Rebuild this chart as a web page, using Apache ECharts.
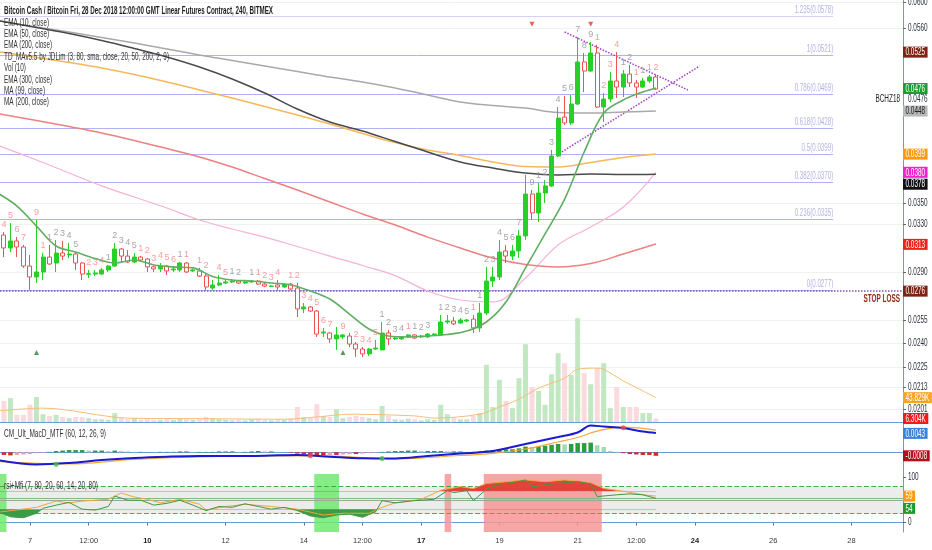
<!DOCTYPE html>
<html>
<head>
<meta charset="utf-8">
<title>BCH/BTC 240</title>
<script src="https://cdn.jsdelivr.net/npm/echarts@6/dist/echarts.min.js"></script>
<style>
html,body{margin:0;padding:0;background:#ffffff;}
#chart{width:932px;height:550px;}
</style>
</head>
<body>
<div id="chart"></div>
<script>
// ================= DATA =================
const firstBarTime = Date.UTC(2018, 11, 6, 8, 0);   // 6 Dec 2018 08:00 UTC
const barHours = 4;
const viewStartTime = Date.UTC(2018, 11, 6, 5, 36);
const viewEndTime = Date.UTC(2018, 11, 29, 7, 36);

const opens = [0.03210,0.03100,0.03159,0.03108,0.02953,0.02867,0.02906,0.03025,0.02977,0.03058,
0.03042,0.03050,0.02977,0.02888,0.02890,0.02890,0.02922,0.02953,0.03091,0.03033,
0.02985,0.03025,0.03009,0.02946,0.02930,0.02953,0.02922,0.02922,0.02977,0.02914,
0.02914,0.02874,0.02783,0.02806,0.02821,0.02829,0.02836,0.02821,0.02829,0.02836,
0.02813,0.02795,0.02806,0.02791,0.02813,0.02783,0.02631,0.02645,0.02616,0.02466,
0.02466,0.02427,0.02440,0.02446,0.02394,0.02362,0.02331,0.02362,0.02356,0.02466,
0.02427,0.02427,0.02440,0.02453,0.02440,0.02440,0.02453,0.02453,0.02540,0.02547,
0.02533,0.02547,0.02560,0.02500,0.02602,0.02836,0.02867,0.03075,0.03033,0.03075,
0.03202,0.03584,0.03406,0.03594,0.03663,0.03970,0.04408,0.04339,0.04566,0.05113,
0.04990,0.05238,0.04529,0.04628,0.04858,0.04779,0.04950,0.04832,0.04779,0.04858,
0.04910];
const closes = [0.03100,0.03159,0.03108,0.02953,0.02867,0.02906,0.03025,0.02969,0.03058,0.03033,
0.03050,0.02977,0.02890,0.02893,0.02898,0.02922,0.02953,0.03091,0.03033,0.02985,
0.03025,0.03001,0.02946,0.02930,0.02953,0.02914,0.02930,0.02977,0.02906,0.02922,
0.02874,0.02791,0.02806,0.02821,0.02829,0.02836,0.02821,0.02829,0.02836,0.02813,
0.02798,0.02798,0.02791,0.02813,0.02776,0.02631,0.02645,0.02616,0.02459,0.02473,
0.02427,0.02453,0.02453,0.02394,0.02362,0.02331,0.02362,0.02368,0.02466,0.02427,
0.02433,0.02440,0.02453,0.02433,0.02446,0.02459,0.02459,0.02540,0.02547,0.02527,
0.02554,0.02554,0.02500,0.02602,0.02836,0.02867,0.03066,0.03033,0.03075,0.03202,
0.03584,0.03406,0.03594,0.03663,0.03970,0.04396,0.04339,0.04566,0.05113,0.04990,
0.05238,0.04529,0.04628,0.04858,0.04779,0.04950,0.04832,0.04779,0.04858,0.04910,
0.04754];
const lows = [0.03025,0.03066,0.03025,0.02938,0.02769,0.02821,0.02844,0.02961,0.02906,0.03001,
0.03017,0.02922,0.02844,0.02859,0.02874,0.02882,0.02906,0.02946,0.02985,0.02977,
0.02977,0.02985,0.02906,0.02906,0.02906,0.02882,0.02906,0.02906,0.02898,0.02906,
0.02867,0.02769,0.02769,0.02798,0.02813,0.02821,0.02813,0.02813,0.02821,0.02806,
0.02791,0.02791,0.02769,0.02783,0.02769,0.02574,0.02602,0.02609,0.02440,0.02440,
0.02401,0.02356,0.02427,0.02375,0.02312,0.02312,0.02318,0.02356,0.02356,0.02388,
0.02420,0.02420,0.02433,0.02427,0.02433,0.02433,0.02446,0.02446,0.02527,0.02520,
0.02527,0.02540,0.02466,0.02473,0.02588,0.02791,0.02844,0.02977,0.03001,0.03017,
0.03167,0.03342,0.03324,0.03499,0.03653,0.03959,0.04316,0.04316,0.04554,0.04716,
0.04977,0.04517,0.04350,0.04591,0.04641,0.04653,0.04779,0.04641,0.04767,0.04832,
0.04742];
const highs = [0.03236,0.03315,0.03193,0.03125,0.03042,0.03342,0.03058,0.03125,0.03167,0.03159,
0.03142,0.03066,0.02985,0.02922,0.02922,0.02938,0.02961,0.03142,0.03100,0.03083,
0.03058,0.03033,0.03017,0.02953,0.02977,0.02961,0.02946,0.02985,0.02985,0.02930,
0.02938,0.02898,0.02844,0.02882,0.02844,0.02852,0.02844,0.02836,0.02844,0.02844,
0.02821,0.02806,0.02844,0.02821,0.02821,0.02821,0.02673,0.02652,0.02624,0.02500,
0.02473,0.02506,0.02459,0.02466,0.02407,0.02375,0.02368,0.02420,0.02540,0.02486,
0.02440,0.02446,0.02459,0.02459,0.02453,0.02466,0.02466,0.02588,0.02588,0.02574,
0.02567,0.02560,0.02588,0.02673,0.02946,0.02946,0.03167,0.03125,0.03125,0.03254,
0.03772,0.03623,0.03692,0.03722,0.04035,0.04529,0.04666,0.04678,0.05468,0.05238,
0.05395,0.05351,0.04703,0.04977,0.05252,0.05004,0.05072,0.04871,0.04897,0.04937,
0.04937];
// volume in thousands
const volumesK = [38,43,13,13,31,45,14,11,13,9,
7,9,9,7,5,5,4,16,7,5,
7,4,5,4,4,5,4,7,5,4,
5,9,7,5,4,3,4,3,5,6,
4,3,5,4,6,27,9,7,32,11,
9,23,7,9,11,9,7,5,29,11,
5,4,6,5,3,5,4,31,14,7,
5,5,11,16,103,27,76,38,25,79,
140,63,56,31,86,124,106,85,187,88,
68,97,106,25,63,27,27,27,16,16,
6.304];
// Vol(10) average, read at bar positions [bar, K]
const volMaPoints = [[-1,20],[6,25],[19,7],[30,6],[43,5],[48,9],[53,14],[63,11],[66,7],[73,14],[76,27],[79,41],[82,61],[86,79],[88,95],[91,97],[92,95],[95,74],[98,56],[100,43.829]];

// moving averages read at bar positions [bar, price]
const ema10Points = [[-1,0.03594],[2,0.03470],[5,0.03288],[8,0.03116],[11,0.03066],[14,0.03013],[17,0.02977],[20,0.03001],[23,0.02961],[26,0.02946],[29,0.02938],[32,0.02871],[35,0.02844],[38,0.02836],[41,0.02821],[44,0.02806],[47,0.02761],[50,0.02702],[53,0.02595],[56,0.02493],[59,0.02446],[62,0.02440],[65,0.02446],[68,0.02456],[71,0.02479],[74,0.02540],[77,0.02681],[80,0.02938],[83,0.03219],[86,0.03535],[89,0.04013],[92,0.04457],[95,0.04616],[98,0.04716],[100,0.04767]];
const ema50Points = [[-1,0.05259],[5,0.05175],[10,0.05106],[15,0.05031],[20,0.04943],[25,0.04845],[30,0.04742],[35,0.04641],[40,0.04536],[45,0.04433],[50,0.04327],[55,0.04218],[60,0.04117],[65,0.04035],[70,0.03975],[75,0.03907],[80,0.03859],[85,0.03854],[90,0.03901],[95,0.03954],[100,0.03991]];
const ema200Points = [[-1,0.05716],[5,0.05610],[10,0.05520],[15,0.05417],[20,0.05302],[25,0.05182],[30,0.05044],[35,0.04884],[40,0.04703],[45,0.04505],[50,0.04350],[55,0.04246],[60,0.04128],[65,0.04013],[70,0.03907],[75,0.03844],[80,0.03792],[85,0.03772],[90,0.03782],[95,0.03777],[100,0.03780]];
const ema300Points = [[-1,0.05716],[5,0.05617],[10,0.05542],[15,0.05461],[20,0.05380],[25,0.05294],[30,0.05209],[35,0.05133],[40,0.05057],[45,0.04983],[50,0.04909],[55,0.04845],[60,0.04767],[65,0.04678],[70,0.04591],[75,0.04547],[80,0.04517],[85,0.04463],[90,0.04457],[95,0.04469],[100,0.04481]];
const ma99Points = [[-1,0.04089],[5,0.03928],[10,0.03793],[15,0.03663],[20,0.03555],[25,0.03452],[30,0.03342],[35,0.03262],[40,0.03192],[45,0.03112],[50,0.03033],[55,0.02957],[60,0.02878],[65,0.02761],[70,0.02695],[75,0.02681],[80,0.02859],[85,0.03125],[90,0.03280],[95,0.03461],[100,0.03800]];
const ma200Points = [[-1,0.04451],[5,0.04368],[10,0.04297],[15,0.04223],[20,0.04139],[25,0.04050],[30,0.03960],[35,0.03854],[40,0.03737],[45,0.03623],[50,0.03508],[55,0.03396],[60,0.03297],[65,0.03192],[70,0.03100],[75,0.03017],[80,0.02965],[85,0.02946],[90,0.02973],[95,0.03050],[100,0.03133]];

// Fibonacci retracement levels
const fibRatios = ['1.235','1','0.786','0.618','0.5','0.382','0.236','0'];
const fibPrices = [0.0578,0.0521,0.0469,0.0428,0.0399,0.0370,0.0335,0.0277];
const fibEndBar = 127.2;
const stopLossPrice = 0.0276;
// triangle trend lines [[bar, price],[bar, price]]
const trendLines = [[[86,0.05542],[104.9,0.04742]], [[84.8,0.03980],[106.7,0.05057]]];

// TD sequential counts [bar, text]
const tdGrayCounts = [[7,'1'],[8,'2'],[9,'3'],[10,'4'],[11,'5'],[16,'1'],[17,'2'],[18,'3'],[19,'4'],[20,'5'],[27,'1'],[35,'1'],[36,'2'],[38,'1'],[58,'1'],[59,'2'],[60,'3'],[61,'4'],[63,'1'],[64,'2'],[65,'3'],[67,'1'],[68,'2'],[69,'3'],[70,'4'],[71,'5'],[73,'1'],[74,'2'],[75,'3'],[76,'4'],[77,'5'],[78,'6'],[79,'7'],[81,'9'],[82,'1'],[83,'2'],[84,'3'],[85,'4'],[86,'5'],[87,'6'],[88,'7'],[89,'8'],[90,'9'],[95,'1'],[96,'2'],[98,'1']];
const tdRedCounts = [[0,'4'],[1,'5'],[2,'6'],[3,'7'],[5,'9'],[6,'1'],[13,'2'],[14,'3'],[15,'4'],[21,'1'],[22,'2'],[23,'3'],[24,'4'],[25,'5'],[26,'6'],[28,'1'],[30,'1'],[31,'2'],[33,'4'],[34,'5'],[39,'1'],[40,'2'],[41,'3'],[42,'4'],[44,'1'],[45,'2'],[46,'3'],[47,'4'],[48,'5'],[49,'6'],[50,'7'],[52,'9'],[54,'2'],[55,'3'],[56,'4'],[57,'5'],[62,'1'],[72,'1'],[91,'1'],[92,'2'],[93,'3'],[94,'4'],[97,'1'],[99,'1'],[100,'2']];
const sellSignalBars = [81, 90];
const buySignalBars = [5, 52];
const sellSignalPrice = 0.0566;
const buySignalPrice = 0.0234;

// price axis tick labels and value boxes
const priceTickValues = [0.0600,0.0560,0.0350,0.0330,0.0290,0.0255,0.0240,0.0225,0.0213,0.0201];
const lastPrice = 0.0476;
const priceBoxes = [[0.0525,'#7d2414','#ffffff',0],[0.0476,'#1f9c30','#ffffff',0],[0.0448,'#b9b9b9','#222222',0],
  [0.0399,'#ff9a0e','#ffffff',0],[0.0380,'#f51fd0','#ffffff',0],[0.0378,'#111111','#ffffff',10],
  [0.0313,'#f0201e','#ffffff',0],[0.0276,'#7d2414','#ffffff',0]];
const lastVolumeMA = 43.829;
const lastVolume = 6.304;

// MACD (60, 12, 26, 9)
const macdHist = [-0.0006,-0.0007,-0.0006,-0.0005,-0.0004,
-0.0002,-0.0001,0.0001,
0.0003,0.0004,0.0005,0.0005,0.0005,0.0004,0.0004,0.0004,0.0003,0.0004,0.0003,0.0002,
0.0001,0.0001,0.0000,0.0000,0.0001,0.0001,0.0001,0.0002,0.0002,0.0001,0.0001,
0.0001,0.0001,0.0002,0.0002,0.0002,0.0001,0.0001,
0.0002,0.0003,0.0002,0.0002,0.0001,0.0000,-0.0001,
-0.0003,-0.0004,-0.0005,-0.0006,-0.0007,-0.0006,-0.0006,-0.0005,-0.0004,-0.0004,-0.0003,-0.0002,-0.0001,
0.0001,0.0002,0.0003,0.0003,0.0004,0.0004,0.0003,0.0003,0.0003,0.0003,0.0002,0.0002,0.0002,
0.0001,0.0001,0.0002,
0.0004,0.0005,0.0007,0.0007,0.0007,0.0009,0.0013,0.0012,0.0014,0.0015,0.0017,0.0019,0.0018,0.0019,0.0021,0.0021,0.0022,0.0016,0.0012,
0.0003,0.0001,-0.0002,-0.0004,-0.0005,-0.0006,-0.0006,-0.0008];
const macdPoints = [[-1,-0.00175],[5,-0.00277],[10,-0.00243],[15,-0.00175],[20,-0.00129],[25,-0.00100],[30,-0.00084],[35,-0.00084],[40,-0.00077],[45,-0.00061],[50,-0.00100],[55,-0.00136],[60,-0.00141],[65,-0.00084],[70,-0.00029],[75,0.00029],[80,0.00188],[85,0.00347],[88,0.00449],[90,0.00608],[92,0.00585],[95,0.00551],[98,0.00472],[100,0.00438]];
const signalPoints = [[-1,-0.00209],[10,-0.00265],[20,-0.00163],[30,-0.00107],[40,-0.00084],[50,-0.00084],[55,-0.00118],[60,-0.00150],[70,-0.00073],[75,-0.00023],[80,0.00075],[85,0.00234],[88,0.00336],[91,0.00483],[95,0.00574],[100,0.00506]];
const macdCrossPoints = [[8,-0.0027,'up'],[47,-0.0008,'down'],[58,-0.0014,'up'],[95,0.0056,'down']];
const lastMacd = 0.0043;
const lastHist = -0.0008;

// rsi + MFI
const rsiPoints = [[-1,25],[1,13],[3,11],[5,21],[6,32],[8,39],[10,45],[12,30],[14,28],[16,36],[17,59],[19,50],[21,50],[23,39],[25,43],[27,50],[29,39],[31,27],[33,36],[35,34],[37,42],[39,36],[41,30],[43,34],[45,27],[47,15],[49,11],[51,17],[53,19],[55,12],[57,24],[58,49],[60,44],[63,49],[66,52],[68,71],[69,67],[71,71],[72,49],[74,74],[76,86],[78,89],[80,95],[81,80],[84,86],[87,90],[88,92],[90,86],[91,58],[94,62],[96,64],[98,62],[100,54]];
const mfiPoints = [[-1,23],[5,34],[8,48],[10,44],[12,48],[16,52],[18,66],[20,57],[22,52],[24,44],[27,52],[30,41],[31,28],[34,36],[37,41],[41,36],[45,30],[49,17],[52,21],[56,21],[58,34],[60,44],[64,52],[67,72],[70,80],[72,76],[74,87],[77,91],[80,95],[83,91],[86,95],[90,89],[92,76],[95,70],[98,62],[100,59]];
const rsiOverbought = 80, rsiOversold = 20, rsiFillHigh = 70, rsiFillLow = 30;
const rsiMidLevels = [55, 50];
const rsiTickValues = [0, 100];
const oversoldBands = [[-0.6,0.4],[47.6,51.4]];
const overboughtBands = [[67.6,68.6],[73.6,91.7]];
const lastRsi = 54, lastMfi = 59;

// time axis labels [day of Dec, hour]
const xLabelDays = [[7,0],[8,12],[10,0],[12,0],[14,0],[15,12],[17,0],[19,0],[21,0],[22,12],[24,0],[26,0],[28,0]];
const weekStartDays = [10,17,24];

const headerLines = [
  'Bitcoin Cash / Bitcoin Fri, 28 Dec 2018 12:00:00 GMT Linear Futures Contract, 240, BITMEX',
  'EMA (10, close)','EMA (50, close)','EMA (200, close)',
  'TD_MAv5.5 by JDLim (3, 80, sma, close, 20, 50, 200, 2, 9)',
  'Vol (10)','EMA (300, close)','MA (99, close)','MA (200, close)'];
const macdTitle = 'CM_Ult_MacD_MTF (60, 12, 26, 9)';
const rsiTitle = 'rsi+Mfi (7, 80, 20, 60, 14, 20, 80)';

// ================= HELPERS =================
const BAR_MS = barHours * 3600e3;
const t = i => firstBarTime + i * BAR_MS;
const L = Math.log;
const measureCtx = document.createElement('canvas').getContext('2d');
const TEXT_FAMILY = '"Liberation Sans", Arial, sans-serif';
const AX_FONT = TEXT_FAMILY;
const X_FS = 7.5;
const LBL_SCALE = 0.64;
function measure(text, font) { measureCtx.font = font; return measureCtx.measureText(text).width; }

function fitText(text, x, yMid, width, size, weight, color) {
  const font = (weight || 'normal') + ' ' + size + 'px ' + TEXT_FAMILY;
  return { type: 'text', x: x, y: yMid, scaleX: width / measure(text, font), silent: true, z: 50,
    style: { text: text, font: font, fill: color || '#333', align: 'left', verticalAlign: 'middle',
             textAlign: 'left', textVerticalAlign: 'middle' } };
}
function scaledText(text, x, y, opts) {
  opts = opts || {};
  const font = (opts.weight || 'normal') + ' ' + (opts.size || 10) + 'px ' + TEXT_FAMILY;
  const align = opts.align || 'left';
  return { type: 'text', x: x, y: y, scaleX: opts.scale || LBL_SCALE, silent: true, z: 60,
    style: { text: text, font: font, fill: opts.color || '#2a2e39', align: align, verticalAlign: 'middle',
             textAlign: align, textVerticalAlign: 'middle' } };
}
function boxGraphic(x, y, text, bg, fg) {
  const font = '10px ' + TEXT_FAMILY;
  const w = measure(text, font) * LBL_SCALE + 5;
  return { type: 'group', x: x, y: y, silent: true, z: 60, children: [
    { type: 'rect', z: 60, shape: { x: 0, y: -5.5, width: w, height: 11 }, style: { fill: bg } },
    { type: 'text', z: 61, x: 2.5, y: 0.5, scaleX: LBL_SCALE,
      style: { text: text, font: font, fill: fg, align: 'left', verticalAlign: 'middle', textAlign: 'left', textVerticalAlign: 'middle' } } ] };
}
const toLine = (pts, fn) => pts.map(p => [t(p[0]), fn ? fn(p[1]) : p[1]]);

// ================= LAYOUT CONSTANTS =================
const GRID_RIGHT = 29;
const AXIS_BLUE = '#6b9ad6';
const priceMin = -3.942009, priceMax = -2.806685;  // ln-price extent of the pane
const volMaxK = 760;
const macdMin = -0.004932, macdMax = 0.006886;
const rsiMin = -20.7, rsiMax = 108.2;

const candleData = opens.map((o, i) => [t(i), L(o), L(closes[i]), L(lows[i]), L(highs[i])]);
const volData = volumesK.map((v, i) => ({ value: [t(i), v],
  itemStyle: { color: closes[i] >= opens[i] ? '#c2e8c2' : '#fbdadd' } }));
const histData = macdHist.map((v, i) => {
  const prev = i > 0 ? macdHist[i - 1] : v;
  let c;
  if (v >= 0) c = v >= prev ? '#2e9c3c' : '#a9d8ad';
  else c = v <= prev ? '#d9262b' : '#f2a3a6';
  return { value: [t(i), v], itemStyle: { color: c } };
});

function xAxisBase(gi, showLine) {
  return { type: 'value', gridIndex: gi, min: viewStartTime, max: viewEndTime,
    axisLine: { show: showLine, lineStyle: { color: AXIS_BLUE, width: 1 } },
    axisTick: { show: false }, axisLabel: { show: false }, splitLine: { show: false } };
}
function gridBox(top, height) {
  return { left: 0, right: GRID_RIGHT, top: top, height: height, containLabel: false, outerBoundsMode: 'none' };
}

const option = {
  animation: false,
  backgroundColor: '#ffffff',
  grid: [ gridBox(0, 422), gridBox(422, 52), gridBox(474, 58), gridBox(474, 17.2), gridBox(509.2, 22.8) ],
  xAxis: [
    xAxisBase(0, true),
    xAxisBase(1, true),
    Object.assign(xAxisBase(2, true), {
      axisTick: { show: true, length: 3, lineStyle: { color: '#777' },
        customValues: xLabelDays.map(d => Date.UTC(2018, 11, d[0], d[1])) },
      axisLabel: { show: true, margin: 5, fontSize: X_FS, fontFamily: AX_FONT, color: '#3a3a3a',
        customValues: xLabelDays.map(d => Date.UTC(2018, 11, d[0], d[1])),
        formatter: v => {
          const d = new Date(v);
          if (d.getUTCHours() === 12) return '12:00';
          const day = d.getUTCDate();
          return weekStartDays.indexOf(day) >= 0 ? '{b|' + day + '}' : String(day);
        },
        rich: { b: { fontWeight: 'bold', fontSize: X_FS, fontFamily: AX_FONT, color: '#222' } } }
    }),
    xAxisBase(3, false),
    xAxisBase(4, false)
  ],
  yAxis: [
    { type: 'value', gridIndex: 0, position: 'right', min: priceMin, max: priceMax,
      axisLine: { show: true, lineStyle: { color: AXIS_BLUE } },
      axisTick: { show: true, length: 3, lineStyle: { color: '#666' }, customValues: priceTickValues.map(L) },
      axisLabel: { show: false, customValues: priceTickValues.map(L) },
      splitLine: { show: true, lineStyle: { color: '#f1f1f1' } } },
    { type: 'value', gridIndex: 0, min: 0, max: volMaxK, show: false, splitLine: { show: false } },
    { type: 'value', gridIndex: 1, position: 'right', min: macdMin, max: macdMax,
      axisLine: { show: true, lineStyle: { color: AXIS_BLUE } }, axisTick: { show: false },
      axisLabel: { show: false }, splitLine: { show: false } },
    { type: 'value', gridIndex: 2, position: 'right', min: rsiMin, max: rsiMax,
      axisLine: { show: true, lineStyle: { color: AXIS_BLUE } },
      axisTick: { show: true, length: 3, lineStyle: { color: '#666' }, customValues: rsiTickValues },
      axisLabel: { show: false, customValues: rsiTickValues }, splitLine: { show: false } },
    { type: 'value', gridIndex: 3, min: rsiFillHigh, max: rsiMax, show: false, splitLine: { show: false } },
    { type: 'value', gridIndex: 4, min: rsiMin, max: rsiFillLow, show: false, splitLine: { show: false } }
  ],
  series: [
    // volume overlay
    { type: 'bar', name: 'Vol', xAxisIndex: 0, yAxisIndex: 1, data: volData, barWidth: 5, z: 1, silent: true },
    { type: 'line', name: 'Vol MA', xAxisIndex: 0, yAxisIndex: 1, data: toLine(volMaPoints), showSymbol: false,
      smooth: 0.3, lineStyle: { color: '#f6bd78', width: 1 }, z: 1, silent: true },
    // moving averages
    { type: 'line', name: 'MA 99', data: toLine(ma99Points, L), showSymbol: false, smooth: 0.4,
      lineStyle: { color: '#f6b2d6', width: 1.2 }, z: 2 },
    { type: 'line', name: 'MA 200', data: toLine(ma200Points, L), showSymbol: false, smooth: 0.4,
      lineStyle: { color: '#ef8080', width: 1.5 }, z: 2 },
    { type: 'line', name: 'EMA 300', data: toLine(ema300Points, L), showSymbol: false, smooth: 0.4,
      lineStyle: { color: '#a9a9a9', width: 1.5 }, z: 2 },
    { type: 'line', name: 'EMA 50', data: toLine(ema50Points, L), showSymbol: false, smooth: 0.4,
      lineStyle: { color: '#f5b85c', width: 1.5 }, z: 2 },
    { type: 'line', name: 'EMA 200', data: toLine(ema200Points, L), showSymbol: false, smooth: 0.4,
      lineStyle: { color: '#4a4a4a', width: 1.5 }, z: 2 },
    // candles + drawings
    { type: 'candlestick', name: 'BCHZ18', data: candleData, barWidth: 4.5, z: 3,
      encode: { x: 0, y: [1, 2, 3, 4] },
      itemStyle: { color: '#27cf27', color0: '#ffffff', borderColor: '#27cf27', borderColor0: '#ec5252', borderWidth: 1 },
      markLine: { symbol: ['none', 'none'], silent: true, z: 1,
        data: fibPrices.map((p, k) => [
          { coord: [viewStartTime, L(p)], lineStyle: { color: k === 0 ? '#d2d2f4' : '#b0b2f2', width: 1, type: 'solid' }, label: { show: false } },
          { coord: [t(fibEndBar), L(p)] }
        ]).concat(trendLines.map(seg => [
          { coord: [t(seg[0][0]), L(seg[0][1])], lineStyle: { color: '#9b3fc4', width: 1.5, type: 'dotted' }, label: { show: false } },
          { coord: [t(seg[1][0]), L(seg[1][1])] }
        ])).concat([
          { yAxis: L(stopLossPrice), lineStyle: { color: '#7c56bd', width: 1.5, type: 'dotted' }, label: { show: false } }
        ]) } },
    { type: 'line', name: 'EMA 10', data: toLine(ema10Points, L), showSymbol: false, smooth: 0.35,
      lineStyle: { color: '#5fae62', width: 1.6 }, z: 4 },
    // TD counts
    { type: 'scatter', name: 'TD up', symbolSize: 0, z: 5, silent: true,
      data: tdGrayCounts.map(c => [t(c[0]), L(highs[c[0]]), c[1]]),
      label: { show: true, position: 'top', distance: 3, formatter: p => p.value[2], color: '#8f8f8f', fontSize: 9, fontFamily: AX_FONT } },
    { type: 'scatter', name: 'TD down', symbolSize: 0, z: 5, silent: true,
      data: tdRedCounts.map(c => [t(c[0]), L(highs[c[0]]), c[1]]),
      label: { show: true, position: 'top', distance: 3, formatter: p => p.value[2], color: '#f08585', fontSize: 9, fontFamily: AX_FONT } },
    { type: 'scatter', name: 'sell', symbol: 'triangle', symbolRotate: 180, symbolSize: 5, z: 5, silent: true,
      itemStyle: { color: '#e53935' }, data: sellSignalBars.map(b => [t(b), L(sellSignalPrice)]) },
    { type: 'scatter', name: 'buy', symbol: 'triangle', symbolSize: 5, z: 5, silent: true,
      itemStyle: { color: '#2e7d32' }, data: buySignalBars.map(b => [t(b), L(buySignalPrice)]) },
    // MACD pane
    { type: 'bar', name: 'hist', xAxisIndex: 1, yAxisIndex: 2, data: histData, barWidth: 4.5, silent: true, z: 2 },
    { type: 'line', name: 'signal', xAxisIndex: 1, yAxisIndex: 2, data: toLine(signalPoints), showSymbol: false, smooth: 0.4,
      lineStyle: { color: '#f6a83a', width: 1.2 }, z: 3 },
    { type: 'line', name: 'macd', xAxisIndex: 1, yAxisIndex: 2, data: toLine(macdPoints), showSymbol: false, smooth: 0.35,
      lineStyle: { color: '#1a1ad0', width: 2 }, z: 4 },
    { type: 'scatter', name: 'cross', xAxisIndex: 1, yAxisIndex: 2, symbolSize: 5, z: 5, silent: true,
      data: macdCrossPoints.map(c => ({ value: [t(c[0]), c[1]], itemStyle: { color: c[2] === 'up' ? '#43c043' : '#f04b4b' } })) },
    // RSI pane background bands + levels
    { type: 'line', name: 'rsi bands', xAxisIndex: 2, yAxisIndex: 3, data: [[viewStartTime, 50]], showSymbol: false,
      lineStyle: { opacity: 0 }, silent: true, z: 1,
      markArea: { silent: true, z: 1,
        data: [[{ yAxis: rsiOverbought, itemStyle: { color: '#ececec' } }, { yAxis: rsiOversold }]]
          .concat(oversoldBands.map(b => [{ xAxis: t(b[0]), itemStyle: { color: 'rgba(110,235,110,0.85)' } }, { xAxis: t(b[1]) }]))
          .concat(overboughtBands.map(b => [{ xAxis: t(b[0]), itemStyle: { color: 'rgba(246,150,150,0.85)' } }, { xAxis: t(b[1]) }])) },
      markLine: { symbol: ['none', 'none'], silent: true, z: 2,
        data: [
          { yAxis: rsiOverbought, lineStyle: { color: '#3fae4a', type: 'dashed', width: 1.2 }, label: { show: false } },
          { yAxis: rsiOversold, lineStyle: { color: '#ef5b5b', type: 'dashed', width: 1.2 }, label: { show: false } },
          { yAxis: rsiMidLevels[0], lineStyle: { color: '#86b886', type: 'solid', width: 1 }, label: { show: false } },
          { yAxis: rsiMidLevels[1], lineStyle: { color: '#9aa79a', type: 'solid', width: 1 }, label: { show: false } }
        ] } },
    // fills (clipped grids)
    { type: 'line', xAxisIndex: 3, yAxisIndex: 4, data: toLine(rsiPoints), showSymbol: false, silent: true, z: 3,
      lineStyle: { width: 0 }, areaStyle: { color: '#e5413b', opacity: 1, origin: 'start' } },
    { type: 'line', xAxisIndex: 3, yAxisIndex: 4, data: toLine(mfiPoints), showSymbol: false, silent: true, z: 3,
      lineStyle: { width: 0 }, areaStyle: { color: '#e5413b', opacity: 1, origin: 'start' } },
    { type: 'line', xAxisIndex: 4, yAxisIndex: 5, data: toLine(rsiPoints), showSymbol: false, silent: true, z: 3,
      lineStyle: { width: 0 }, areaStyle: { color: '#3c9b47', opacity: 1, origin: 'end' } },
    { type: 'line', xAxisIndex: 4, yAxisIndex: 5, data: toLine(mfiPoints), showSymbol: false, silent: true, z: 3,
      lineStyle: { width: 0 }, areaStyle: { color: '#3c9b47', opacity: 1, origin: 'end' } },
    // RSI / MFI lines
    { type: 'line', name: 'mfi', xAxisIndex: 2, yAxisIndex: 3, data: toLine(mfiPoints), showSymbol: false,
      lineStyle: { color: '#f3a33c', width: 1 }, z: 4 },
    { type: 'line', name: 'rsi', xAxisIndex: 2, yAxisIndex: 3, data: toLine(rsiPoints), showSymbol: false,
      lineStyle: { color: '#3e9a44', width: 1 }, z: 4 }
  ]
};

const chart = echarts.init(document.getElementById('chart'), null, { renderer: 'canvas', width: 932, height: 550 });
chart.setOption(option);

// ---- condensed texts placed through the chart's own scales ----
const yPx = (axis, v) => chart.convertToPixel({ yAxisIndex: axis }, v);
const xPx = v => chart.convertToPixel({ xAxisIndex: 0 }, v);
const axisX = 932 - GRID_RIGHT;
const labelX = axisX + 5;
const graphics = [
  fitText(headerLines[0], 4, 11, 269, 10, '600', '#1c1c1c'),
  fitText(headerLines[1], 4, 23, 45, 10),
  fitText(headerLines[2], 4, 34, 45, 10),
  fitText(headerLines[3], 4, 45, 48, 10),
  fitText(headerLines[4], 4, 57, 165, 10),
  fitText(headerLines[5], 4, 68, 22, 10),
  fitText(headerLines[6], 4, 80, 48, 10),
  fitText(headerLines[7], 4, 91, 41, 10),
  fitText(headerLines[8], 4, 102, 45, 10),
  fitText(macdTitle, 4, 434, 102, 10),
  fitText(rsiTitle, 4, 486, 94, 10)
];
priceTickValues.forEach(v => graphics.push(scaledText(v.toFixed(4), labelX, yPx(0, L(v)))));
fibPrices.forEach((p, k) => graphics.push(scaledText(fibRatios[k] + '(' + p.toFixed(4) + ')',
  xPx(t(fibEndBar)), yPx(0, L(p)) - 6, { align: 'right', color: '#b3b3e3', scale: 0.62 })));
graphics.push(scaledText('STOP LOSS', axisX - 3, yPx(0, L(stopLossPrice)) + 8, { align: 'right', weight: 'bold', color: '#8e2a1b' }));
graphics.push(scaledText('BCHZ18', axisX - 3, yPx(0, L(lastPrice)) + 11, { align: 'right', color: '#222' }));
graphics.push(scaledText(lastPrice.toFixed(4), labelX, yPx(0, L(lastPrice)) + 11));
priceBoxes.forEach(b => graphics.push(boxGraphic(axisX, yPx(0, L(b[0])) + b[3], b[0].toFixed(4), b[1], b[2])));
graphics.push(boxGraphic(axisX, yPx(1, lastVolumeMA), lastVolumeMA.toFixed(3) + 'K', '#ffa21f', '#ffffff'));
graphics.push(boxGraphic(axisX, yPx(1, lastVolume), lastVolume.toFixed(3) + 'K', '#ee1c1c', '#ffffff'));
graphics.push(boxGraphic(axisX, yPx(2, lastMacd), lastMacd.toFixed(4), '#3d80d8', '#ffffff'));
graphics.push(boxGraphic(axisX, yPx(2, lastHist), lastHist.toFixed(4), '#b3101c', '#ffffff'));
rsiTickValues.forEach(v => graphics.push(scaledText(String(v), labelX, yPx(3, v))));
graphics.push(boxGraphic(axisX, yPx(3, lastMfi), String(lastMfi), '#ff9a0e', '#ffffff'));
graphics.push(boxGraphic(axisX, yPx(3, lastRsi) + 10, String(lastRsi), '#1f9c30', '#ffffff'));
chart.setOption({ graphic: graphics });
</script>
</body>
</html>
